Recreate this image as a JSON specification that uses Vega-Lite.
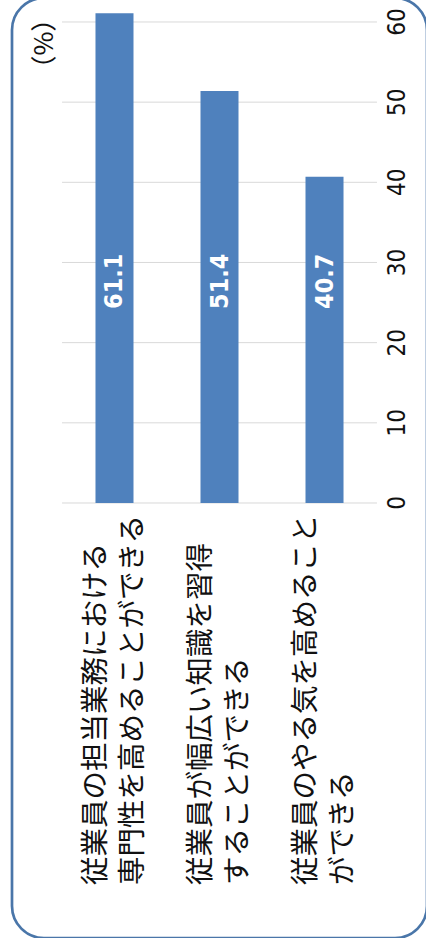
{
  "$schema": "https://vega.github.io/schema/vega-lite/v6.json",
  "width": 415,
  "height": 940,
  "autosize": {"type": "none"},
  "padding": {"left": 12, "top": -2, "right": 0, "bottom": 0},
  "background": "white",
  "config": {
    "view": {"stroke": "#4a76a9", "strokeWidth": 2.7, "cornerRadius": 32}
  },
  "datasets": {
    "bars": [
      {"item": "従業員の担当業務における\n専門性を高めることができる", "value": 61.1},
      {"item": "従業員が幅広い知識を習得\nすることができる", "value": 51.4},
      {"item": "従業員のやる気を高めること\nができる", "value": 40.7}
    ],
    "grid": [{"tick": 0}, {"tick": 10}, {"tick": 20}, {"tick": 30}, {"tick": 40}, {"tick": 50}, {"tick": 60}],
    "unit": [{"label": "（%）"}]
  },
  "layer": [
    {
      "data": {"name": "grid"},
      "mark": {"type": "rule", "color": "#d9d9d9", "strokeWidth": 1},
      "encoding": {
        "y": {"field": "tick", "type": "quantitative", "scale": {"domain": [-54.26, 62.99], "nice": false, "zero": false}, "axis": null},
        "x": {"datum": "従業員の担当業務における\n専門性を高めることができる", "type": "nominal", "bandPosition": -0.88, "axis": null},
        "x2": {"datum": "従業員のやる気を高めること\nができる", "bandPosition": 1.88}
      }
    },
    {
      "data": {"name": "grid"},
      "mark": {"type": "text", "color": "#111111", "fontSize": 24, "font": "DejaVu Sans Condensed", "angle": -90, "align": "center", "baseline": "middle"},
      "encoding": {
        "y": {"field": "tick", "type": "quantitative", "scale": {"domain": [-54.26, 62.99], "nice": false, "zero": false}, "axis": null},
        "x": {"datum": "従業員のやる気を高めること\nができる", "type": "nominal", "bandPosition": 2.434, "axis": null},
        "text": {"field": "tick", "type": "quantitative", "format": "d"}
      }
    },
    {
      "data": {"name": "bars"},
      "mark": {"type": "bar", "color": "#4f81bd"},
      "encoding": {
        "x": {
          "field": "item", "type": "nominal", "sort": null,
          "scale": {
            "domain": ["従業員の担当業務における\n専門性を高めることができる", "従業員が幅広い知識を習得\nすることができる", "従業員のやる気を高めること\nができる"],
            "paddingInner": 0.638, "paddingOuter": 0.795, "align": 0.5
          },
          "axis": null
        },
        "y": {"field": "value", "type": "quantitative", "scale": {"domain": [-54.26, 62.99], "nice": false, "zero": false}, "axis": null},
        "y2": {"datum": 0}
      }
    },
    {
      "data": {"name": "bars"},
      "mark": {"type": "text", "color": "white", "fontWeight": "bold", "fontSize": 25, "font": "DejaVu Sans Condensed", "angle": -90, "align": "left", "baseline": "middle"},
      "encoding": {
        "x": {"field": "item", "type": "nominal", "sort": null, "axis": null},
        "y": {"datum": 24.2, "type": "quantitative", "scale": {"domain": [-54.26, 62.99], "nice": false, "zero": false}, "axis": null},
        "text": {"field": "value", "type": "quantitative", "format": ".1f"}
      }
    },
    {
      "data": {"name": "bars"},
      "mark": {"type": "text", "color": "#111111", "fontSize": 28.5, "lineHeight": 37, "font": "Noto Sans CJK JP", "angle": -90, "align": "left", "baseline": "middle", "lineBreak": "\n", "dy": -18.5},
      "encoding": {
        "x": {"field": "item", "type": "nominal", "sort": null, "axis": null},
        "y": {"datum": -47.65, "type": "quantitative", "scale": {"domain": [-54.26, 62.99], "nice": false, "zero": false}, "axis": null},
        "text": {"field": "item", "type": "nominal"}
      }
    },
    {
      "data": {"name": "unit"},
      "mark": {"type": "text", "color": "#111111", "fontSize": 26, "font": "Noto Sans CJK JP", "angle": -90, "align": "center", "baseline": "middle"},
      "encoding": {
        "x": {"datum": "従業員の担当業務における\n専門性を高めることができる", "type": "nominal", "bandPosition": -1.33, "axis": null},
        "y": {"datum": 57.3, "type": "quantitative", "scale": {"domain": [-54.26, 62.99], "nice": false, "zero": false}, "axis": null},
        "text": {"field": "label", "type": "nominal"}
      }
    }
  ]
}
